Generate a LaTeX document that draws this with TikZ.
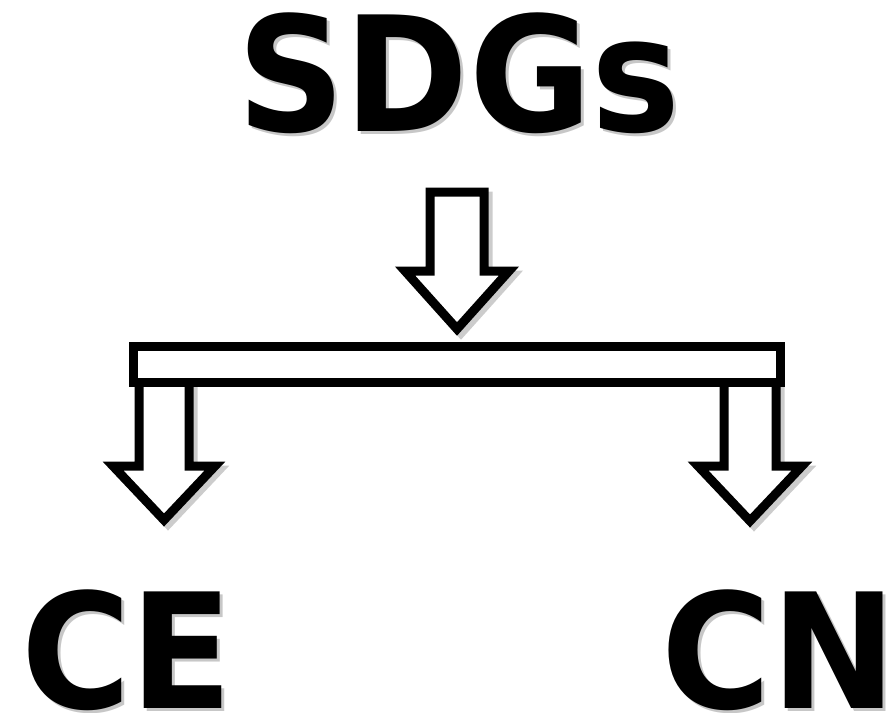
\documentclass[tikz,border=0pt]{standalone}
\usepackage{fontspec}
\setmainfont{DejaVu Sans}
\begin{document}
\begin{tikzpicture}[x=1pt,y=-1pt,
  big/.style={font=\bfseries\fontsize{160}{160}\selectfont, inner sep=0pt, xscale=0.935},
  shadowtxt/.style={big, text=black!22},
  block/.style={draw=black, line width=9pt, line join=miter, fill=white},
  blockshadow/.style={draw=black!20, line width=9pt, line join=miter}
]
\useasboundingbox (0,0) rectangle (893,712);
% shadows of arrows
\begin{scope}[shift={(4,4)}]
\draw[blockshadow] (430,192) -- (484,192) -- (484,271) -- (509,271) -- (457,329) -- (405,271) -- (430,271) -- cycle;
\draw[blockshadow] (139,382) -- (189,382) -- (189,466) -- (215,466) -- (164,520) -- (113,466) -- (139,466);
\draw[blockshadow] (724,382) -- (776,382) -- (776,466) -- (802,466) -- (750,521) -- (698,466) -- (724,466);
\end{scope}
% top arrow
\draw[block] (430,192) -- (484,192) -- (484,271) -- (509,271) -- (457,329) -- (405,271) -- (430,271) -- cycle;
% left and right arrows
\draw[block] (139,382) -- (189,382) -- (189,466) -- (215,466) -- (164,520) -- (113,466) -- (139,466) -- cycle;
\draw[block] (724,382) -- (776,382) -- (776,466) -- (802,466) -- (750,521) -- (698,466) -- (724,466) -- cycle;
% bar
\coordinate (bar1) at (133,346);
\coordinate (bar2) at (780,382);
\draw[block] (bar1) rectangle (bar2);
% texts
\node[shadowtxt, anchor=base] (sdgss) at (462,134) {SDGs};
\node[big, anchor=base] (sdgs) at (459,131) {SDGs};
\node[shadowtxt, anchor=base west] (ces) at (24,711) {CE};
\node[big, anchor=base west] (ce) at (21,708) {CE};
\node[shadowtxt, anchor=base west] (cns) at (664,711) {CN};
\node[big, anchor=base west] (cn) at (661,708) {CN};
\end{tikzpicture}
\end{document}
